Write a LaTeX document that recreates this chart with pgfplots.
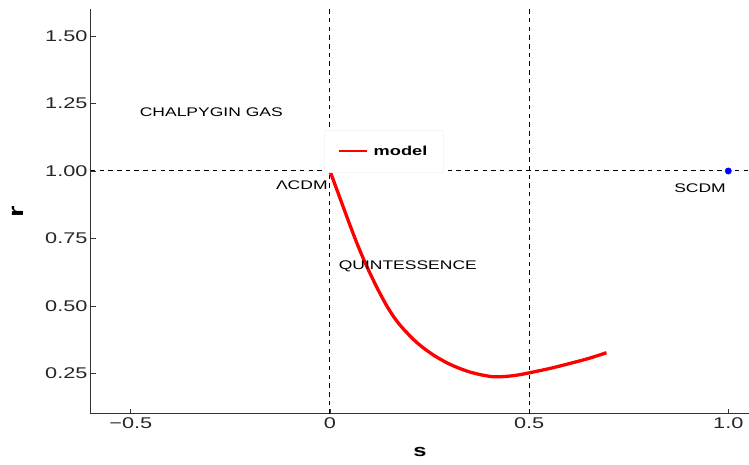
\documentclass[border=0pt]{standalone}
\usepackage{fontspec}
\setmainfont{Liberation Sans}[FakeStretch=1.4]
\usepackage{pgfplots}
\pgfplotsset{compat=1.18}
\begin{document}
\begin{tikzpicture}
\useasboundingbox (-91pt,-51pt) rectangle (658pt,414pt);
\begin{axis}[
  at={(0,0)}, anchor=south west,
  scale only axis, width=658pt, height=405pt,
  xmin=-0.6, xmax=1.052, ymin=0.1, ymax=1.6,
  axis x line=bottom, axis y line=left,
  axis line style={-, black!80, line width=1pt},
  tick align=inside, major tick length=5pt,
  tick style={black!80, line width=0.8pt},
  xtick={-0.5,0,0.5,1.0},
  xticklabels={−0.5,0,0.5,1.0},
  ytick={0.25,0.5,0.75,1.0,1.25,1.5},
  yticklabels={0.25,0.50,0.75,1.00,1.25,1.50},
  /pgf/number format/assume math mode=true,
  ticklabel style={font=\fontsize{15.5}{18}\selectfont, black!85},
  xlabel={s}, ylabel={r},
  xlabel style={font=\fontsize{17}{20}\selectfont\bfseries, at={(axis description cs:0.5,-0.094)}, anchor=center},
  ylabel style={font=\fontsize{21}{24}\selectfont\bfseries, at={(axis description cs:-0.111,0.5)}, anchor=center},
  legend style={at={(axis description cs:0.354,0.701)}, anchor=north west,
    draw=gray!8, fill=white, font=\fontsize{13}{15}\selectfont\bfseries,
    inner xsep=14pt, inner ysep=13.5pt},
  legend image code/.code={\draw[#1, line width=1.6pt] (0pt,0pt) -- (28pt,0pt);},
  clip=false,
]
\addplot[black, line width=1pt, dash pattern=on 4.5pt off 4.2pt, forget plot] coordinates {(-0.6,1) (1.052,1)};
\addplot[black, line width=1pt, dash pattern=on 4.5pt off 4.2pt, forget plot] coordinates {(0,0.1) (0,1.6)};
\addplot[black, line width=1pt, dash pattern=on 4.5pt off 4.2pt, forget plot] coordinates {(0.5,0.1) (0.5,1.6)};
\addplot[red, line width=3.3pt, smooth] coordinates {
(0.000,1.000) (0.010,0.960) (0.020,0.920) (0.030,0.880) (0.040,0.840) (0.050,0.800)
(0.063,0.750) (0.075,0.706) (0.092,0.648) (0.110,0.592) (0.125,0.548) (0.142,0.502)
(0.160,0.460) (0.180,0.422) (0.209,0.377) (0.230,0.350) (0.260,0.318) (0.293,0.290)
(0.320,0.272) (0.350,0.256) (0.380,0.245) (0.410,0.238) (0.440,0.239) (0.470,0.244)
(0.502,0.253) (0.550,0.268) (0.594,0.284) (0.650,0.306) (0.694,0.327)};
\addlegendentry{\hspace{4pt}model}
\addplot[only marks, mark=*, mark size=3.2pt, blue, forget plot] coordinates {(1,1)};
\node[font=\fontsize{12.5}{15}\selectfont] at (axis cs:-0.298,1.216) {CHALPYGIN GAS};
\node[font=\fontsize{12.5}{15}\selectfont, anchor=east, inner sep=1pt] at (axis cs:-0.003,0.947) {ΛCDM};
\node[font=\fontsize{12.5}{15}\selectfont, anchor=west, inner sep=1pt] at (axis cs:0.019,0.648) {QUINTESSENCE};
\node[font=\fontsize{12.5}{15}\selectfont] at (axis cs:0.929,0.937) {SCDM};
\end{axis}
\end{tikzpicture}
\end{document}
